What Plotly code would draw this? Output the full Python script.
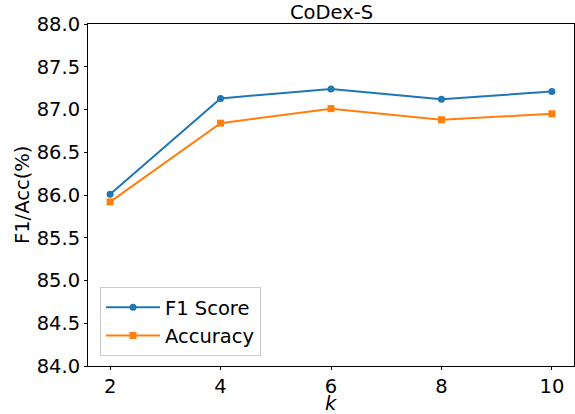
import plotly.graph_objects as go

k_values = [2, 4, 6, 8, 10]
f1_scores = [86.01, 87.13, 87.24, 87.12, 87.21]
accuracy = [85.92, 86.84, 87.01, 86.88, 86.95]
y_ticks = [84.0, 84.5, 85.0, 85.5, 86.0, 86.5, 87.0, 87.5, 88.0]

FONT = "DejaVu Sans"
FS = 19.5
W, H = 575, 414
L, T, R, B = 88, 24, 1, 48
PW, PH = W - L - R, H - T - B

fig = go.Figure()
fig.add_trace(go.Scatter(
    x=k_values, y=f1_scores, mode="lines+markers", name="F1 Score",
    line=dict(color="#1f77b4", width=2),
    marker=dict(symbol="circle", size=7, color="#1f77b4"),
))
fig.add_trace(go.Scatter(
    x=k_values, y=accuracy, mode="lines+markers", name="Accuracy",
    line=dict(color="#ff7f0e", width=2),
    marker=dict(symbol="square", size=7, color="#ff7f0e"),
))

fig.update_layout(
    width=W, height=H,
    margin=dict(l=L, r=R, t=T, b=B, autoexpand=False),
    paper_bgcolor="white", plot_bgcolor="white",
    font=dict(family=FONT, size=FS, color="black"),
    showlegend=True,
    legend=dict(
        x=(100 - L) / PW, y=(H - B - 356) / PH, xanchor="left", yanchor="bottom",
        bgcolor="rgba(255,255,255,0.8)", bordercolor="#cccccc", borderwidth=1,
        font=dict(family=FONT, size=FS, color="black"),
        tracegroupgap=4, itemwidth=54,
    ),
    annotations=[
        dict(text="CoDex-S", xref="paper", yref="paper", x=0.5, y=1 + (T - 13) / PH,
             xanchor="center", yanchor="middle", showarrow=False,
             font=dict(family=FONT, size=FS, color="black")),
        dict(text="<i>k</i>", xref="paper", yref="paper", x=0.5, y=-(403 - (H - B)) / PH,
             xanchor="center", yanchor="middle", showarrow=False,
             font=dict(family=FONT, size=FS, color="black")),
        dict(text="F1/Acc(%)", xref="paper", yref="paper", x=-(L - 22) / PW, y=0.5,
             xanchor="center", yanchor="middle", showarrow=False, textangle=-90,
             font=dict(family=FONT, size=FS, color="black")),
    ],
)

fig.update_xaxes(
    range=[1.6, 10.4], tickmode="array", tickvals=k_values,
    ticktext=[str(v) for v in k_values],
    showgrid=False, zeroline=False, automargin=False,
    showline=True, linecolor="black", linewidth=1, mirror=True,
    ticks="outside", ticklen=3, tickwidth=1, tickcolor="black",
    tickfont=dict(family=FONT, size=FS),
)
fig.update_yaxes(
    range=[84.0, 88.0], tickmode="array", tickvals=y_ticks,
    ticktext=[f"{v:.1f}" for v in y_ticks],
    showgrid=False, zeroline=False, automargin=False,
    showline=True, linecolor="black", linewidth=1, mirror=True,
    ticks="outside", ticklen=3, tickwidth=1, tickcolor="black",
    tickfont=dict(family=FONT, size=FS),
)

fig.write_html(
    "out.html",
    config={"displayModeBar": False},
    post_script="document.body.style.margin='0';document.documentElement.style.overflow='hidden';",
)
